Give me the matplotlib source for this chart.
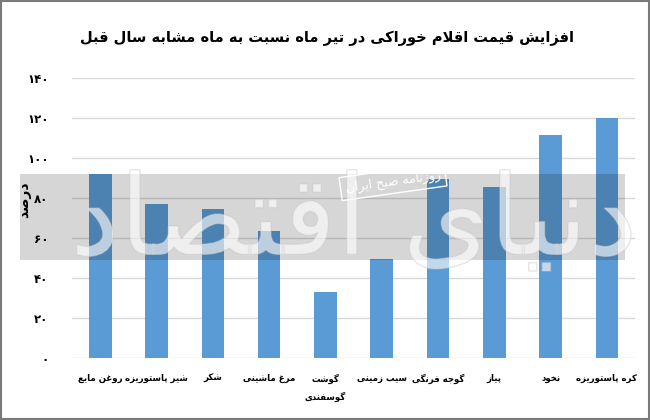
import matplotlib
matplotlib.use("Agg")
import matplotlib.pyplot as plt
import matplotlib.patheffects as pe
from matplotlib.patches import Rectangle

# داده‌ها
categories = ["روغن مایع", "شیر پاستوریزه", "شکر", "مرغ ماشینی", "گوشت\nگوسفندی",
              "سیب زمینی", "گوجه فرنگی", "پیاز", "نخود", "کره پاستوریزه"]
values = [92, 77, 74.5, 63.5, 33, 49.5, 89.5, 85.5, 111.5, 120]
yticks = [0, 20, 40, 60, 80, 100, 120, 140]
title = "افزایش قیمت اقلام خوراکی در تیر ماه نسبت به ماه مشابه سال قبل"
ylabel = "درصد"
watermark = "دنیای اقتصاد"
stamp = "روزنامه صبح ایران"

# شکل‌های حروف: (تنها، پایانی، آغازی، میانی)
FORMS = {
    "ا": ("\uFE8D", "\uFE8E", None, None),
    "آ": ("\uFE81", "\uFE82", None, None),
    "ب": ("\uFE8F", "\uFE90", "\uFE91", "\uFE92"),
    "پ": ("\uFB56", "\uFB57", "\uFB58", "\uFB59"),
    "ت": ("\uFE95", "\uFE96", "\uFE97", "\uFE98"),
    "ث": ("\uFE99", "\uFE9A", "\uFE9B", "\uFE9C"),
    "ج": ("\uFE9D", "\uFE9E", "\uFE9F", "\uFEA0"),
    "چ": ("\uFB7A", "\uFB7B", "\uFB7C", "\uFB7D"),
    "ح": ("\uFEA1", "\uFEA2", "\uFEA3", "\uFEA4"),
    "خ": ("\uFEA5", "\uFEA6", "\uFEA7", "\uFEA8"),
    "د": ("\uFEA9", "\uFEAA", None, None),
    "ذ": ("\uFEAB", "\uFEAC", None, None),
    "ر": ("\uFEAD", "\uFEAE", None, None),
    "ز": ("\uFEAF", "\uFEB0", None, None),
    "ژ": ("\uFB8A", "\uFB8B", None, None),
    "س": ("\uFEB1", "\uFEB2", "\uFEB3", "\uFEB4"),
    "ش": ("\uFEB5", "\uFEB6", "\uFEB7", "\uFEB8"),
    "ص": ("\uFEB9", "\uFEBA", "\uFEBB", "\uFEBC"),
    "ض": ("\uFEBD", "\uFEBE", "\uFEBF", "\uFEC0"),
    "ط": ("\uFEC1", "\uFEC2", "\uFEC3", "\uFEC4"),
    "ظ": ("\uFEC5", "\uFEC6", "\uFEC7", "\uFEC8"),
    "ع": ("\uFEC9", "\uFECA", "\uFECB", "\uFECC"),
    "غ": ("\uFECD", "\uFECE", "\uFECF", "\uFED0"),
    "ف": ("\uFED1", "\uFED2", "\uFED3", "\uFED4"),
    "ق": ("\uFED5", "\uFED6", "\uFED7", "\uFED8"),
    "ک": ("\uFB8E", "\uFB8F", "\uFB90", "\uFB91"),
    "گ": ("\uFB92", "\uFB93", "\uFB94", "\uFB95"),
    "ل": ("\uFEDD", "\uFEDE", "\uFEDF", "\uFEE0"),
    "م": ("\uFEE1", "\uFEE2", "\uFEE3", "\uFEE4"),
    "ن": ("\uFEE5", "\uFEE6", "\uFEE7", "\uFEE8"),
    "و": ("\uFEED", "\uFEEE", None, None),
    "ه": ("\uFEE9", "\uFEEA", "\uFEEB", "\uFEEC"),
    "ی": ("\uFBFC", "\uFBFD", "\uFBFE", "\uFBFF"),
}


def joins_forward(ch):
    return ch in FORMS and FORMS[ch][2] is not None


def shape_line(s):
    out = []
    i = 0
    while i < len(s):
        ch = s[i]
        prev = s[i - 1] if i > 0 else None
        nxt = s[i + 1] if i + 1 < len(s) else None
        if ch not in FORMS:
            out.append(ch)
            i += 1
            continue
        jp = joins_forward(prev)
        if ch == "ل" and nxt == "ا":
            out.append("\uFEFC" if jp else "\uFEFB")
            i += 2
            continue
        jn = joins_forward(ch) and nxt in FORMS
        iso, fin, ini, med = FORMS[ch]
        if jp and jn:
            out.append(med)
        elif jp:
            out.append(fin)
        elif jn:
            out.append(ini)
        else:
            out.append(iso)
        i += 1
    return "".join(reversed(out))


def fa(s):
    return "\n".join(shape_line(line) for line in s.split("\n"))


def fa_digits(n):
    return str(n).translate(str.maketrans("0123456789", "۰۱۲۳۴۵۶۷۸۹"))


plt.rcParams["font.family"] = ["DejaVu Sans"]

fig = plt.figure(figsize=(6.5, 4.2), dpi=100)
ax = fig.add_axes([0.111, 0.147, 0.866, 0.667])

x = list(range(len(categories)))
ax.bar(x, values, width=0.4, color="#5b9bd5", zorder=2)

ax.set_xlim(-0.5, len(categories) - 0.5)
ax.set_ylim(0, 140)
ax.set_yticks(yticks)
ax.set_yticklabels([fa_digits(v) for v in yticks], fontsize=8.5, fontweight="bold")
ax.set_xticks(x)
ax.set_xticklabels([fa(c) for c in categories], fontsize=6.2, fontweight="bold",
                   linespacing=1.9, va="top")
ax.tick_params(axis="y", length=0, pad=17)
ax.tick_params(axis="x", length=0, pad=11)
ax.grid(axis="y", color="#d9d9d9", linewidth=1, zorder=0)
for sp in ax.spines.values():
    sp.set_visible(False)

fig.text(24 / 650, 1 - 200 / 420, fa(ylabel), rotation=90, ha="center", va="center",
         fontsize=10, fontweight="bold")

fig.text(327 / 650, 1 - 38 / 420, fa(title), ha="center", va="center",
         fontsize=10.5, fontweight="bold")

# نوار خاکستری و واترمارک
ax.add_patch(Rectangle((20 / 650, 1 - 260 / 420), 605 / 650, 86 / 420,
                       transform=fig.transFigure, facecolor="black", alpha=0.16,
                       edgecolor="none", clip_on=False, zorder=5))
ax.text(0.5, 0.48, fa(watermark), transform=ax.transAxes, ha="center", va="center",
        fontsize=80, color="white", alpha=0.25, zorder=6,
        path_effects=[pe.withStroke(linewidth=1, foreground="#c8c8c8", alpha=0.5)])
ax.text(0.57, 0.63, fa(stamp), transform=ax.transAxes, ha="center", va="center",
        fontsize=9, color="white", rotation=8, zorder=7,
        bbox=dict(boxstyle="square,pad=0.4", facecolor="none", edgecolor="white", linewidth=1))

# قاب دور تصویر
fig.add_artist(Rectangle((0.001, 0.002), 0.997, 0.996, transform=fig.transFigure,
                         facecolor="none", edgecolor="#7a7a7a", linewidth=1.5))

fig.savefig("out.png", dpi=100)
